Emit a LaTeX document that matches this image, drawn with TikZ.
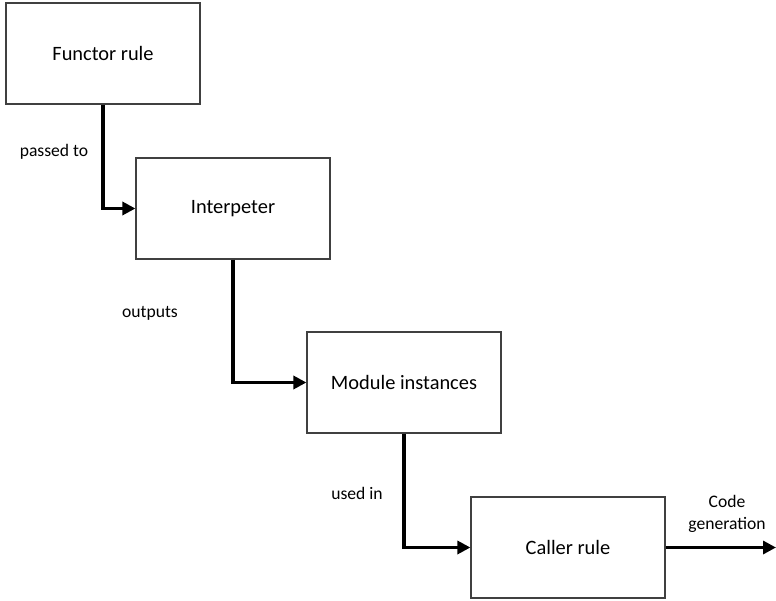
\documentclass[tikz,border=0pt]{standalone}
\usepackage{fontspec}
\setmainfont{Carlito}
\usetikzlibrary{arrows.meta}
\begin{document}
\begin{tikzpicture}[x=1pt,y=-1pt,
  box/.style={draw=black!75, line width=1.2pt, fill=white, minimum width=194pt, minimum height=101pt, inner sep=0pt, font=\fontsize{20.4}{24}\selectfont},
  conn/.style={line width=3.2pt, -{Triangle[length=13pt,width=13pt]}},
  lbl/.style={font=\fontsize{17.6}{22}\selectfont, align=center, inner sep=0pt}]
\useasboundingbox (0,0) rectangle (776,601);
\node[box] (f) at (103,53.5) {Functor rule};
\node[box] (i) at (233,208.5) {Interpeter};
\node[box] (m) at (404,382.5) {Module instances};
\node[box] (c) at (568,547.5) {Caller rule};
\coordinate (e) at (776,547.5);
\draw[conn] (f.south) |- (i.west);
\draw[conn] (i.south) |- (m.west);
\draw[conn] (m.south) |- (c.west);
\draw[conn] (c.east) -- (e);
\node[lbl] (l1) at (54,152) {passed to};
\node[lbl] (l2) at (150,313) {outputs};
\node[lbl] (l3) at (357,493) {used in};
\node[lbl] (l4) at (727,514) {Code\\generation};
\end{tikzpicture}
\end{document}
